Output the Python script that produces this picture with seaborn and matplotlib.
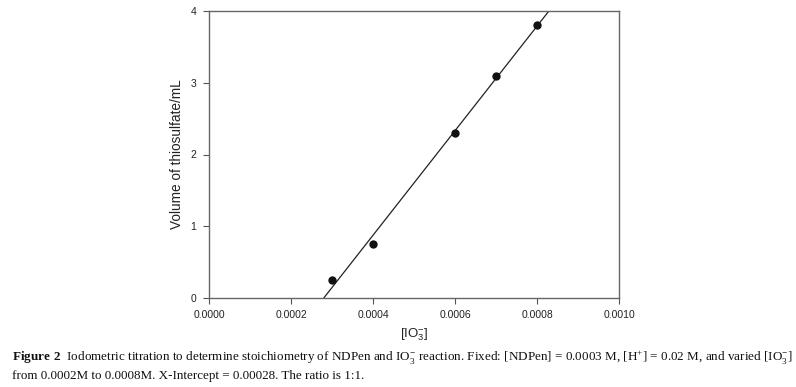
import numpy as np
import pandas as pd
import matplotlib
matplotlib.use("Agg")
import matplotlib.pyplot as plt
import seaborn as sns

# Data
iodate = [0.0003, 0.0004, 0.0006, 0.0007, 0.0008]
volume = [0.25, 0.75, 2.3, 3.1, 3.8]
x_ticks = [0.0, 0.0002, 0.0004, 0.0006, 0.0008, 0.0010]
y_ticks = [0, 1, 2, 3, 4]

sns.set_style("ticks")
plt.rcParams["font.family"] = ["Liberation Sans", "DejaVu Sans"]
plt.rcParams["mathtext.fontset"] = "custom"
plt.rcParams["mathtext.rm"] = "Liberation Serif"
plt.rcParams["mathtext.bf"] = "Liberation Serif:bold"

df = pd.DataFrame({"x": iodate, "y": volume})
slope, intercept = np.polyfit(df["x"], df["y"], 1)
fit_x = np.array([-intercept / slope, (4.2 - intercept) / slope])
fit_df = pd.DataFrame({"x": fit_x, "y": slope * fit_x + intercept})

fig = plt.figure(figsize=(7.96, 3.87), dpi=100)
ax = fig.add_axes([209 / 796, 1 - 298 / 387, 410 / 796, 287 / 387])

sns.lineplot(data=fit_df, x="x", y="y", ax=ax, color="#222222", lw=0.9)
sns.scatterplot(data=df, x="x", y="y", ax=ax, color="#111111", s=36,
                edgecolor="#111111", linewidth=0, zorder=3)

ax.set_xlim(0, 0.001)
ax.set_ylim(0, 4)
ax.set_xticks(x_ticks)
ax.set_xticklabels([f"{v:.4f}" for v in x_ticks])
ax.set_yticks(y_ticks)
ax.set_yticklabels([str(v) for v in y_ticks])
ax.tick_params(axis="both", labelsize=7.5, length=4, width=0.8,
               color="#555555", labelcolor="#222222", direction="out")
ax.tick_params(axis="x", pad=5)
ax.tick_params(axis="y", pad=5)
for sp in ax.spines.values():
    sp.set_visible(True)
    sp.set_color("#666666")
    sp.set_linewidth(1.0)

ax.set_xlabel(r"[IO$_\mathregular{3}^\mathregular{-}$]", fontsize=9.5,
              color="#222222", labelpad=4)
ax.set_ylabel("Volume of thiosulfate/mL", fontsize=9.8, color="#222222",
              labelpad=5)

cap_font = dict(family="Liberation Serif", fontsize=9.45, color="#111111")
fig.text(12 / 796, 1 - 357 / 387,
         r"$\mathbf{Figure\ 2}$  Iodometric titration to determine stoichiometry of NDPen and "
         r"IO$_\mathregular{3}^\mathregular{-}$ reaction. Fixed: [NDPen] = 0.0003 M, "
         r"[H$^\mathregular{+}$] = 0.02 M, and varied [IO$_\mathregular{3}^\mathregular{-}$]",
         va="center", ha="left", **cap_font)
fig.text(12 / 796, 1 - 376 / 387,
         "from 0.0002M to 0.0008M. X-Intercept = 0.00028. The ratio is 1:1.",
         va="center", ha="left", **cap_font)

fig.savefig("out.png", dpi=100)
